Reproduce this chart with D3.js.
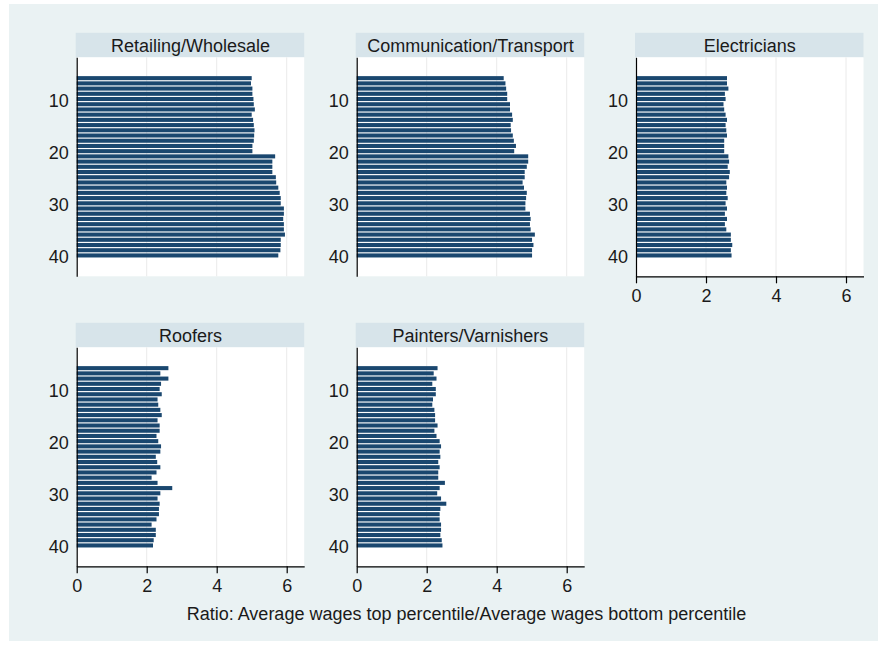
<!DOCTYPE html>
<html>
<head>
<meta charset="utf-8">
<script src="https://cdn.jsdelivr.net/npm/d3@7"></script>
<style>
  body { margin: 0; background: #ffffff; }
  text { font-family: "Liberation Sans", Arial, sans-serif; fill: #1a1a1a; }
</style>
</head>
<body>
<svg id="chart"></svg>
<script>
// Data section ****************************************************************
const years = [6, 7, 8, 9, 10, 11, 12, 13, 14, 15, 16, 17, 18, 19, 20, 21, 22, 23,
               24, 25, 26, 27, 28, 29, 30, 31, 32, 33, 34, 35, 36, 37, 38, 39, 40];

const retailing = [5.00, 4.98, 5.02, 5.02, 5.05, 5.06, 5.09, 5.00, 5.04, 5.06, 5.08, 5.07,
                   5.06, 5.02, 5.02, 5.67, 5.59, 5.59, 5.59, 5.69, 5.70, 5.76, 5.80, 5.83,
                   5.83, 5.92, 5.92, 5.90, 5.92, 5.92, 5.95, 5.83, 5.83, 5.82, 5.76];

const communication = [4.20, 4.25, 4.27, 4.30, 4.30, 4.38, 4.38, 4.44, 4.46, 4.40, 4.41, 4.46,
                       4.49, 4.55, 4.50, 4.90, 4.90, 4.86, 4.80, 4.80, 4.74, 4.78, 4.86, 4.84,
                       4.82, 4.82, 4.95, 4.97, 4.95, 4.97, 5.09, 5.01, 5.05, 5.01, 5.01];

const electricians = [2.60, 2.60, 2.64, 2.54, 2.56, 2.50, 2.52, 2.56, 2.60, 2.56, 2.58, 2.60,
                      2.52, 2.52, 2.52, 2.64, 2.66, 2.62, 2.68, 2.66, 2.58, 2.60, 2.58, 2.62,
                      2.56, 2.60, 2.54, 2.60, 2.54, 2.58, 2.71, 2.71, 2.75, 2.71, 2.73];

const roofers = [2.62, 2.39, 2.62, 2.41, 2.37, 2.43, 2.31, 2.33, 2.39, 2.43, 2.31, 2.37,
                 2.37, 2.28, 2.33, 2.41, 2.39, 2.26, 2.30, 2.39, 2.28, 2.14, 2.31, 2.73,
                 2.39, 2.31, 2.37, 2.35, 2.35, 2.28, 2.14, 2.26, 2.26, 2.20, 2.18];

const painters = [2.31, 2.20, 2.28, 2.16, 2.26, 2.26, 2.18, 2.16, 2.22, 2.24, 2.24, 2.31,
                  2.22, 2.28, 2.37, 2.41, 2.37, 2.39, 2.33, 2.37, 2.33, 2.33, 2.52, 2.37,
                  2.30, 2.41, 2.56, 2.39, 2.37, 2.37, 2.41, 2.41, 2.39, 2.43, 2.45];

const panelNames = ["Retailing/Wholesale", "Communication/Transport", "Electricians",
                    "Roofers", "Painters/Varnishers"];
const panelValues = [retailing, communication, electricians, roofers, painters];

const xTicks = [0, 2, 4, 6];
const yTicks = [10, 20, 30, 40];
const xTitle = "Ratio: Average wages top percentile/Average wages bottom percentile";

/******************************************************************************/

const width = 885, height = 646;
const colX = [76.7, 356.7, 636];    // left edge of each plot column
const rowY = [57.3, 347.3];         // top edge of each plot row
const plotW = 227.5, plotH = 219;
const stripH = 24.5;
const navy = "#1a476f";
const fontSize = "18px";

const svg = d3.select("#chart")
    .attr("width", width)
    .attr("height", height);

// Graph region background
svg.append("rect")
    .attr("x", 9).attr("y", 4)
    .attr("width", 869).attr("height", 637)
    .attr("fill", "#eaf2f3");

const x = d3.scaleLinear().domain([0, 6.5]).range([0, plotW]);
const y = d3.scaleLinear().domain([2, 44]).range([0, plotH]);
const barH = (y(1) - y(0)) * 0.78;

panelNames.forEach((name, i) => {
    const row = Math.floor(i / 3), col = i % 3;
    const g = svg.append("g")
        .attr("transform", `translate(${colX[col]},${rowY[row]})`);

    // Title strip
    g.append("rect")
        .attr("x", -1).attr("y", -stripH)
        .attr("width", plotW + 1).attr("height", stripH)
        .attr("fill", "#d7e4ea");
    g.append("text")
        .attr("x", plotW / 2).attr("y", -stripH / 2)
        .attr("dy", "0.36em")
        .attr("text-anchor", "middle")
        .style("font-size", fontSize)
        .text(name);

    // Plot area
    g.append("rect")
        .attr("width", plotW).attr("height", plotH)
        .attr("fill", "#ffffff");

    // Vertical gridlines
    g.selectAll(".grid")
        .data(xTicks.filter(d => d > 0))
        .enter().append("line")
        .attr("class", "grid")
        .attr("x1", d => x(d)).attr("x2", d => x(d))
        .attr("y1", 0).attr("y2", plotH)
        .attr("stroke", "#eaeaea")
        .attr("stroke-width", 1);

    // Bars
    const vals = panelValues[i];
    g.selectAll(".bar")
        .data(years)
        .enter().append("rect")
        .attr("class", "bar")
        .attr("x", x(0))
        .attr("y", d => y(d) - barH / 2)
        .attr("width", (d, k) => x(vals[k]) - x(0))
        .attr("height", barH)
        .attr("fill", navy);

    // Y axis (no ticks)
    const yAxis = g.append("g")
        .call(d3.axisLeft(y).tickValues(yTicks).tickSize(0).tickPadding(8).tickSizeOuter(0));
    yAxis.select(".domain").attr("stroke", "#000").attr("stroke-width", 1.2);
    yAxis.selectAll("text")
        .attr("dy", "0.4em")
        .style("font-size", fontSize)
        .style("font-family", "Liberation Sans, Arial, sans-serif")
        .attr("fill", "#1a1a1a");

    // X axis only where no panel sits below
    const showX = row === 1 || col === 2;
    if (showX) {
        const xAxis = g.append("g")
            .attr("transform", `translate(0,${plotH})`)
            .call(d3.axisBottom(x).tickValues(xTicks).tickFormat(d3.format("d"))
                .tickSize(7).tickPadding(6).tickSizeOuter(0));
        xAxis.select(".domain").attr("stroke", "#000").attr("stroke-width", 1.2);
        xAxis.selectAll("line").attr("stroke", "#000").attr("stroke-width", 1.2);
        xAxis.selectAll("text")
            .style("font-size", fontSize)
            .style("font-family", "Liberation Sans, Arial, sans-serif")
            .attr("fill", "#1a1a1a");
    }
});

// Common x-axis title
svg.append("text")
    .attr("x", 466.5)
    .attr("y", 614)
    .attr("dy", "0.36em")
    .attr("text-anchor", "middle")
    .style("font-size", fontSize)
    .text(xTitle);
</script>
</body>
</html>
